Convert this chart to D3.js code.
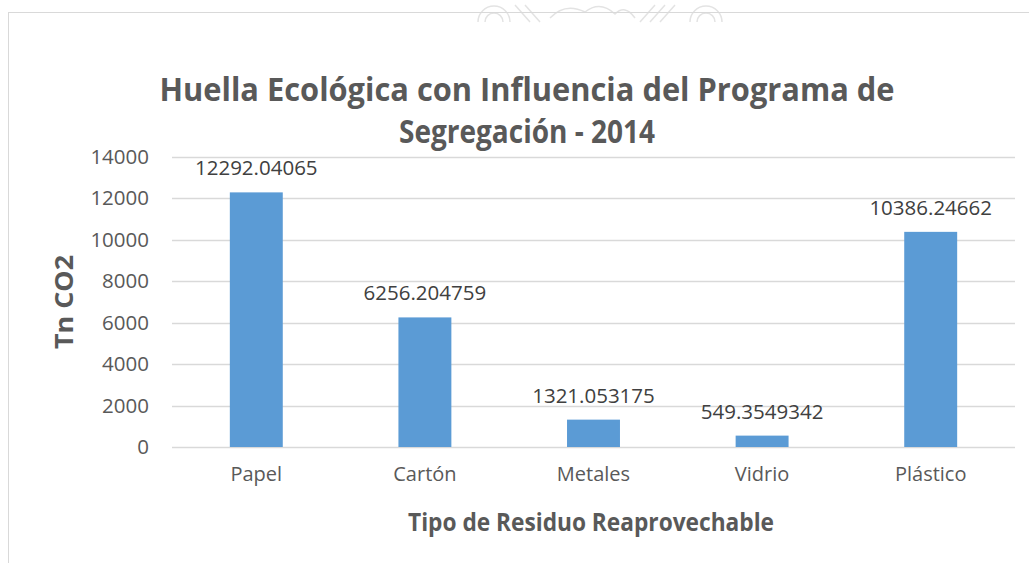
<!DOCTYPE html>
<html>
<head>
<meta charset="utf-8">
<script src="https://cdn.jsdelivr.net/npm/d3@7"></script>
<style>
  body { margin:0; background:#fff; }
  svg text { font-family:"Open Sans", sans-serif; }
</style>
</head>
<body>
<svg id="chart" width="1029" height="563"></svg>
<script>
// ---- datos
var categorias = ["Papel", "Cartón", "Metales", "Vidrio", "Plástico"];
var valores = [12292.04065, 6256.204759, 1321.053175, 549.3549342, 10386.24662];
var ticksY = [0, 2000, 4000, 6000, 8000, 10000, 12000, 14000];
var titulo = ["Huella Ecológica con Influencia del Programa de", "Segregación - 2014"];
var tituloY = "Tn CO2", tituloX = "Tipo de Residuo Reaprovechable";

var svg = d3.select("#chart"),
    gris = "#595959",
    margen = {left:172, right:1015, top:157, bottom:447};

// marca de agua (parcial, arriba)
var agua = svg.append("g").attr("fill", "none").attr("stroke", "#e3e3e3").attr("stroke-width", 1.5);
agua.append("path").attr("d", "M478,22 A16,16 0 0 1 510,22 M485,22 A9,9 0 0 1 503,22");
agua.append("path").attr("d", "M690,22 A16,16 0 0 1 722,22 M697,22 A9,9 0 0 1 715,22");
agua.append("path").attr("d", "M515,5 L530,22 M525,5 L540,22 M655,5 L640,22 M665,5 L650,22 M675,5 L660,22");
agua.append("path").attr("d", "M550,18 Q565,2 585,12 Q600,0 615,14 Q625,4 635,18");

// borde del area del grafico
svg.append("rect")
  .attr("x", 8.5).attr("y", 12.5)
  .attr("width", 1100).attr("height", 600)
  .attr("fill", "none").attr("stroke", "#d9d9d9");

var x = d3.scaleBand().domain(categorias)
    .range([margen.left, margen.right]).paddingInner(0.686).paddingOuter(0.343);
var y = d3.scaleLinear().domain([0, 14000]).range([margen.bottom, margen.top]);

// grilla
svg.append("g").selectAll("line").data(ticksY).join("line")
  .attr("x1", margen.left).attr("x2", margen.right)
  .attr("y1", function(d){ return Math.round(y(d)) + 0.5; })
  .attr("y2", function(d){ return Math.round(y(d)) + 0.5; })
  .attr("stroke", "#d9d9d9").attr("stroke-width", 1.3);

// eje Y
var ejeY = d3.axisLeft(y).tickValues(ticksY).tickSize(0).tickPadding(23).tickFormat(d3.format("d"));
var gy = svg.append("g").attr("transform", "translate(" + margen.left + ",0)").call(ejeY);
gy.select(".domain").remove();
gy.selectAll("text").attr("font-size", 20.5).attr("fill", gris).attr("font-family", "Open Sans");

// eje X
var ejeX = d3.axisBottom(x).tickSize(0).tickPadding(20);
var gx = svg.append("g").attr("transform", "translate(0," + margen.bottom + ")").call(ejeX);
gx.select(".domain").remove();
gx.selectAll("text").attr("font-size", 20).attr("fill", gris).attr("font-family", "Open Sans");

// barras
svg.append("g").selectAll("rect").data(valores).join("rect")
  .attr("x", function(d, i){ return x(categorias[i]); })
  .attr("width", x.bandwidth())
  .attr("y", function(d){ return y(d); })
  .attr("height", function(d){ return y(0) - y(d); })
  .attr("fill", "#5b9bd5");

// etiquetas de datos
svg.append("g").selectAll("text").data(valores).join("text")
  .attr("x", function(d, i){ return x(categorias[i]) + x.bandwidth() / 2; })
  .attr("y", function(d){ return y(d) - 17; })
  .attr("text-anchor", "middle")
  .attr("font-size", 20.5).attr("fill", "#404040")
  .text(function(d){ return String(d); });

// textos en negrita con ancho fijo (Calibri es mas estrecha)
function negrita(tx, ty, rot, fs, ancho, texto) {
  return svg.append("text")
    .attr("transform", "translate(" + tx + "," + ty + ")" + (rot ? " rotate(-90)" : ""))
    .attr("text-anchor", "middle").attr("font-weight", "bold")
    .attr("font-size", fs).attr("fill", gris)
    .attr("textLength", ancho).attr("lengthAdjust", "spacingAndGlyphs")
    .text(texto);
}
negrita(527, 101, false, 32, 735, titulo[0]);
negrita(527, 143, false, 32, 256, titulo[1]);
negrita(73, 302, true, 25, 94, tituloY);
negrita(591, 531, false, 25, 366, tituloX);
</script>
</body>
</html>
